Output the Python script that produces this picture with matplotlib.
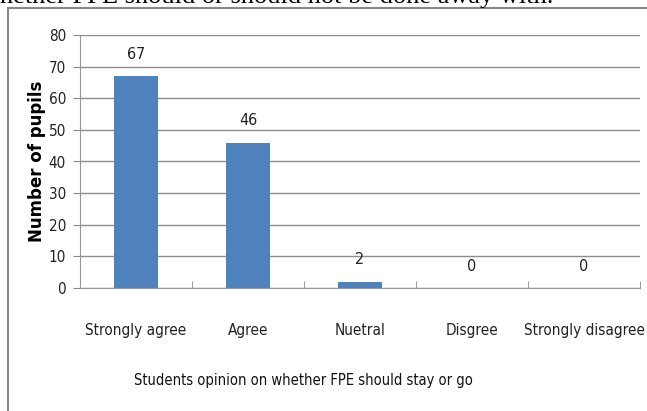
import numpy as np
import matplotlib.pyplot as plt
from matplotlib.lines import Line2D

# ---- data ----
categories = ["Strongly agree", "Agree", "Nuetral", "Disgree", "Strongly disagree"]
pupils = [67, 46, 2, 0, 0]
y_ticks = [0, 10, 20, 30, 40, 50, 60, 70, 80]

fig = plt.figure(figsize=(6.47, 4.11), dpi=100)
ax = fig.add_axes([80/647, 1-288/411, (640-80)/647, (288-35)/411])

fnt = dict(family="DejaVu Sans", stretch="condensed")

x = np.arange(len(categories))
bars = ax.bar(x, pupils, width=0.4, color="#4F81BD", zorder=3)
for xi, v in zip(x, pupils):
    ax.text(xi, v + 4.5, str(v), ha="center", va="bottom", fontsize=11.5,
            color="#222222", zorder=4, **fnt)

ax.set_xlim(-0.5, len(categories) - 0.5)
ax.set_ylim(0, 80)
ax.set_yticks(y_ticks)
ax.set_yticklabels([str(t) for t in y_ticks], fontsize=11, color="#222222", **fnt)
ax.set_xticks(x)
ax.set_xticklabels(categories, fontsize=11, color="#222222", **fnt)
ax.set_xticks(np.arange(len(categories) + 1) - 0.5, minor=True)
ax.tick_params(axis="x", which="major", length=0, pad=25)
ax.tick_params(axis="x", which="minor", length=5, color="#888888", direction="in")
ax.tick_params(axis="y", length=5, color="#888888", pad=5)

ax.grid(axis="y", color="#8c8c8c", linewidth=1, zorder=0)
for s in ["top", "right"]:
    ax.spines[s].set_visible(False)
ax.spines["left"].set_color("#999999")
ax.spines["bottom"].set_color("#999999")

ax.set_ylabel("Number of pupils", fontsize=12, fontweight="bold",
              family="DejaVu Sans")
ax.yaxis.set_label_coords((46-80)/560, 0.5)
ax.set_xlabel("Students opinion on whether FPE should stay or go", fontsize=10.5,
              color="#111111", **fnt)
ax.xaxis.set_label_coords((303-80)/560, -(373-288)/253)

# surrounding frame of the chart box
fig.add_artist(Line2D([8/647, 1.0], [1-8/411, 1-8/411], color="#888888", lw=1.5))
fig.add_artist(Line2D([8/647, 8/647], [1-8/411, 0], color="#888888", lw=1.5))

# cropped line of text from the page above
fig.text(0, 1-3/411, "hether FPE should or should not be done away with.",
         family="Liberation Serif", fontsize=19, va="baseline", ha="left")

fig.savefig("out.png", dpi=100)
